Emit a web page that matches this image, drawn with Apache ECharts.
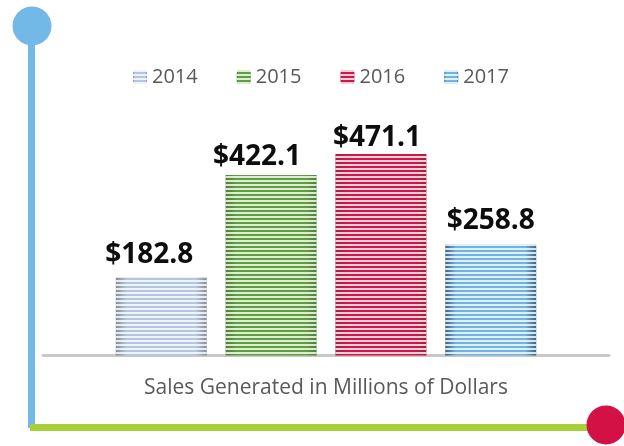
<!DOCTYPE html>
<html>
<head>
<meta charset="utf-8">
<script src="https://cdn.jsdelivr.net/npm/echarts@6/dist/echarts.min.js"></script>
<style>
html, body { margin: 0; padding: 0; background: #fff; }
#chart { width: 624px; height: 446px; }
</style>
</head>
<body>
<div id="chart"></div>
<script>
// data
const years = ['2014', '2015', '2016', '2017'];
const sales = [182.8, 422.1, 471.1, 258.8];
const axisTitle = 'Sales Generated in Millions of Dollars';

// bar colours: main stripe colour and darker edge
const mainColors = ['#b3c6e2', '#5fa03c', '#d1164a', '#6db5e5'];
const edgeColors = ['#858e99', '#4f7f38', '#a2213f', '#3b6383'];
// labels are not quite centred in the original
const labelShift = [[-12, 0], [-14, 4], [-4, 6], [0, -2]];

function barFill(i) {
    return {
        type: 'linear', x: 0, y: 0, x2: 1, y2: 0,
        colorStops: [
            { offset: 0, color: edgeColors[i] },
            { offset: 0.12, color: mainColors[i] },
            { offset: 0.88, color: mainColors[i] },
            { offset: 1, color: edgeColors[i] }
        ]
    };
}

const series = years.map(function (y, i) {
    return {
        name: y,
        type: 'bar',
        stack: 'sales',
        barWidth: 91,
        data: [[i, sales[i]]],
        itemStyle: {
            color: barFill(i),
            decal: {
                symbol: 'rect',
                symbolSize: 1,
                dashArrayX: [1, 0],
                dashArrayY: [2, 2],
                rotation: 0,
                color: 'rgba(255,255,255,0.8)'
            }
        },
        label: {
            show: true,
            position: 'top',
            distance: 8,
            offset: labelShift[i],
            fontFamily: 'Open Sans',
            fontWeight: 'bold',
            fontSize: 28,
            color: '#0d0d0d',
            formatter: function (p) { return '$' + p.value[1].toFixed(1); }
        }
    };
});

var myChart = echarts.init(document.getElementById('chart'));
var option = {
    animation: false,
    aria: { enabled: true, decal: { show: true } },
    textStyle: { fontFamily: 'Open Sans' },
    legend: {
        data: years,
        left: 128,
        top: 62,
        itemWidth: 14,
        itemHeight: 14,
        itemGap: 39,
        textStyle: { fontSize: 20, color: '#595959', fontFamily: 'Open Sans' }
    },
    grid: { left: 43, right: 15, top: 141.6, bottom: 90.5 },
    xAxis: {
        type: 'value',
        min: -1.077,
        max: 4.077,
        name: axisTitle,
        nameLocation: 'middle',
        nameGap: 22,
        nameTextStyle: { fontSize: 21, color: '#595959', fontFamily: 'Open Sans' },
        axisLine: { show: true, lineStyle: { color: '#c8c8c8', width: 3 } },
        axisTick: { show: false },
        axisLabel: { show: false },
        splitLine: { show: false }
    },
    yAxis: {
        type: 'value',
        min: 0,
        max: 500,
        show: false
    },
    graphic: [
        // timeline decoration
        { type: 'rect', shape: { x: 28, y: 30, width: 7, height: 398 }, style: { fill: '#72b9e8' } },
        { type: 'circle', shape: { cx: 32, cy: 26, r: 19.5 }, style: { fill: '#72b9e8' } },
        { type: 'rect', shape: { x: 30, y: 424, width: 565, height: 7 }, style: { fill: '#a8d03c' } },
        { type: 'circle', shape: { cx: 606, cy: 425, r: 19.5 }, style: { fill: '#d31145' } }
    ],
    series: series
};
myChart.setOption(option);
</script>
</body>
</html>
